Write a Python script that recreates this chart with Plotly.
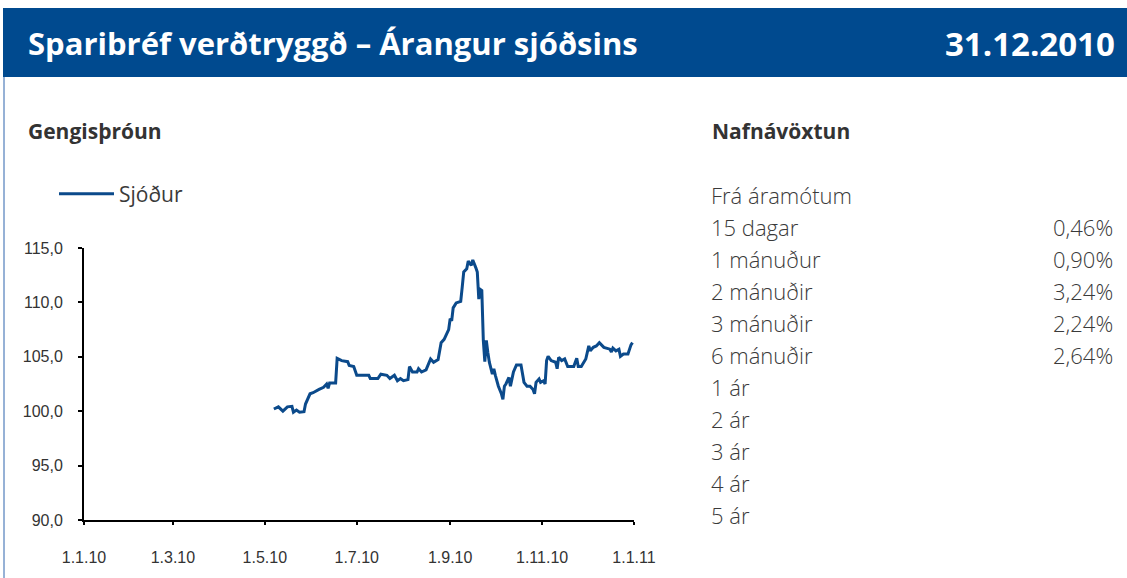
import plotly.graph_objects as go

W, H = 1127, 578

# ---- data ----
dates = [
    "2010-05-07", "2010-05-10", "2010-05-13", "2010-05-16", "2010-05-19", "2010-05-20",
    "2010-05-22", "2010-05-24", "2010-05-27", "2010-05-28", "2010-05-31", "2010-06-02",
    "2010-06-06", "2010-06-09", "2010-06-11", "2010-06-12", "2010-06-13", "2010-06-17",
    "2010-06-18", "2010-06-21", "2010-06-25", "2010-06-26", "2010-06-29", "2010-07-01",
    "2010-07-09", "2010-07-10", "2010-07-15", "2010-07-17", "2010-07-21", "2010-07-23",
    "2010-07-26", "2010-07-28", "2010-07-30", "2010-08-01", "2010-08-04", "2010-08-05",
    "2010-08-07", "2010-08-10", "2010-08-11", "2010-08-13", "2010-08-16", "2010-08-19",
    "2010-08-21", "2010-08-24", "2010-08-26", "2010-08-28", "2010-08-31", "2010-09-01",
    "2010-09-02", "2010-09-03", "2010-09-05", "2010-09-08", "2010-09-09", "2010-09-10",
    "2010-09-12", "2010-09-13", "2010-09-15", "2010-09-16", "2010-09-18", "2010-09-19",
    "2010-09-20", "2010-09-21", "2010-09-22", "2010-09-23", "2010-09-24", "2010-09-25",
    "2010-09-26", "2010-09-27", "2010-09-29", "2010-09-30", "2010-10-01", "2010-10-03",
    "2010-10-05", "2010-10-06", "2010-10-07", "2010-10-08", "2010-10-10", "2010-10-11",
    "2010-10-13", "2010-10-15", "2010-10-18", "2010-10-20", "2010-10-22", "2010-10-24",
    "2010-10-26", "2010-10-27", "2010-10-28", "2010-10-30", "2010-10-31", "2010-11-02",
    "2010-11-03", "2010-11-04", "2010-11-05", "2010-11-07", "2010-11-10", "2010-11-11",
    "2010-11-12", "2010-11-14", "2010-11-16", "2010-11-18", "2010-11-22", "2010-11-24",
    "2010-11-25", "2010-11-27", "2010-11-30", "2010-12-02", "2010-12-03", "2010-12-05",
    "2010-12-07", "2010-12-09", "2010-12-12", "2010-12-14", "2010-12-16", "2010-12-17",
    "2010-12-18", "2010-12-20", "2010-12-22", "2010-12-23", "2010-12-25", "2010-12-28",
    "2010-12-29", "2010-12-30", "2010-12-31",
]
fund_values = [
    100.2, 100.4, 100.0, 100.4, 100.45, 99.9,
    100.1, 99.9, 99.95, 100.66, 101.6, 101.7,
    102.0, 102.2, 102.5, 102.1, 102.6, 102.6,
    104.86, 104.65, 104.55, 104.2, 104.1, 103.3,
    103.3, 103.0, 103.0, 103.4, 103.3, 103.0,
    103.3, 102.8, 103.0, 102.8, 102.9, 104.1,
    103.6, 103.6, 103.9, 103.6, 103.8, 104.8,
    104.5, 104.75, 106.3, 106.6, 107.5, 108.5,
    108.3, 109.5, 109.95, 110.1, 111.4, 112.8,
    113.1, 113.8, 113.4, 113.9, 113.2, 112.8,
    110.3, 111.2, 111.1, 106.5, 104.55, 106.5,
    105.4, 104.5, 103.4, 103.9, 103.3, 102.3,
    101.6, 101.1, 102.3, 102.5, 103.1, 102.3,
    103.6, 104.25, 104.25, 102.65, 102.3, 102.3,
    102.0, 101.6, 102.65, 102.96, 102.65, 102.8,
    102.5, 104.65, 105.05, 104.65, 104.5, 103.9,
    104.95, 104.65, 104.8, 104.1, 104.1, 104.86,
    104.1, 104.1, 104.8, 106.0, 105.55, 105.87,
    106.0, 106.3, 105.87, 105.8, 105.7, 105.45,
    105.8, 105.55, 105.7, 105.05, 105.26, 105.26,
    105.7, 106.1, 106.3,
]
series_name = "Sjóður"

x_tick_vals = ["2010-01-01", "2010-03-01", "2010-05-01", "2010-07-01",
               "2010-09-01", "2010-11-01", "2011-01-01"]
x_tick_text = ["1.1.10", "1.3.10", "1.5.10", "1.7.10", "1.9.10", "1.11.10", "1.1.11"]
y_tick_vals = [90, 95, 100, 105, 110, 115]
y_tick_text = ["90,0", "95,0", "100,0", "105,0", "110,0", "115,0"]

title_text = "Sparibréf verðtryggð – Árangur sjóðsins"
date_text = "31.12.2010"
chart_heading = "Gengisþróun"
table_heading = "Nafnávöxtun"
period_labels = ["Frá áramótum", "15 dagar", "1 mánuður", "2 mánuðir", "3 mánuðir",
                 "6 mánuðir", "1 ár", "2 ár", "3 ár", "4 ár", "5 ár"]
period_returns = ["", "0,46%", "0,90%", "3,24%", "2,24%", "2,64%", "", "", "", "", ""]

# ---- styling ----
BLUE = "#004a8f"
LINE_BLUE = "#0b4a8b"
TEXT = "#333333"
LIGHT_TEXT = "#3a3a3a"


def px(x):
    return x / W


def py(y):
    return 1 - y / H


fig = go.Figure()
fig.add_trace(go.Scatter(
    x=dates, y=fund_values, mode="lines", name=series_name,
    line=dict(color=LINE_BLUE, width=3),
))

fig.update_layout(
    width=W, height=H, autosize=False,
    margin=dict(l=0, r=0, t=0, b=0, pad=0, autoexpand=False),
    paper_bgcolor="white", plot_bgcolor="white",
    showlegend=True,
    legend=dict(
        x=px(54), y=py(194), xanchor="left", yanchor="middle",
        font=dict(family="Open Sans", size=21, color=LIGHT_TEXT),
        bgcolor="rgba(0,0,0,0)", itemwidth=55,
    ),
    xaxis=dict(
        domain=[px(84), px(634)],
        range=["2010-01-01", "2011-01-01"],
        tickmode="array", tickvals=x_tick_vals, ticktext=x_tick_text,
        showgrid=False, zeroline=False, automargin=False,
        showline=True, linecolor="black", linewidth=2,
        ticks="outside", ticklen=3, tickwidth=2, tickcolor="black",
        tickfont=dict(family="Liberation Sans", size=16, color=TEXT),
        ticklabelstandoff=19,
        fixedrange=True,
    ),
    yaxis=dict(
        domain=[py(520), py(248)],
        range=[90, 115],
        tickmode="array", tickvals=y_tick_vals, ticktext=y_tick_text,
        showgrid=False, zeroline=False, automargin=False,
        showline=True, linecolor="black", linewidth=2,
        ticks="outside", ticklen=4, tickwidth=2, tickcolor="black",
        tickfont=dict(family="Liberation Sans", size=16, color=TEXT),
        ticklabelstandoff=12,
        fixedrange=True,
    ),
)

shapes = [
    dict(type="rect", xref="paper", yref="paper",
         x0=px(3), x1=1, y0=py(77), y1=py(8),
         fillcolor=BLUE, line=dict(width=0), layer="below"),
    dict(type="line", xref="paper", yref="paper",
         x0=px(4), x1=px(4), y0=0, y1=py(77),
         line=dict(color="#2f64ad", width=1)),
]
fig.update_layout(shapes=shapes)

ann = []
ann.append(dict(text=f"<b>{title_text}</b>", x=px(26), y=py(43), xref="paper", yref="paper",
                xanchor="left", yanchor="middle", showarrow=False,
                font=dict(family="Open Sans", size=31, color="white")))
ann.append(dict(text=f"<b>{date_text}</b>", x=px(1117), y=py(43), xref="paper", yref="paper",
                xanchor="right", yanchor="middle", showarrow=False,
                font=dict(family="Open Sans", size=33, color="white")))
ann.append(dict(text=f"<b>{chart_heading}</b>", x=px(26), y=py(131), xref="paper", yref="paper",
                xanchor="left", yanchor="middle", showarrow=False,
                font=dict(family="Open Sans", size=21, color=TEXT)))
ann.append(dict(text=f"<b>{table_heading}</b>", x=px(710), y=py(131), xref="paper", yref="paper",
                xanchor="left", yanchor="middle", showarrow=False,
                font=dict(family="Open Sans", size=21, color=TEXT)))

row_y0, row_step = 195, 32
for i, (lab, val) in enumerate(zip(period_labels, period_returns)):
    yy = py(row_y0 + i * row_step)
    ann.append(dict(text=lab, x=px(709), y=yy, xref="paper", yref="paper",
                    xanchor="left", yanchor="middle", showarrow=False,
                    font=dict(family="Open Sans", size=22, color=LIGHT_TEXT, weight=300)))
    if val:
        ann.append(dict(text=val, x=px(1115), y=yy, xref="paper", yref="paper",
                        xanchor="right", yanchor="middle", showarrow=False,
                        font=dict(family="Open Sans", size=22, color=LIGHT_TEXT, weight=300)))
fig.update_layout(annotations=ann)

post = ("document.documentElement.style.margin='0';"
        "document.body.style.margin='0';document.body.style.padding='0';"
        "document.body.style.overflow='hidden';"
        "document.documentElement.style.overflow='hidden';")
fig.write_html("out.html", post_script=post, config={"displayModeBar": False})
